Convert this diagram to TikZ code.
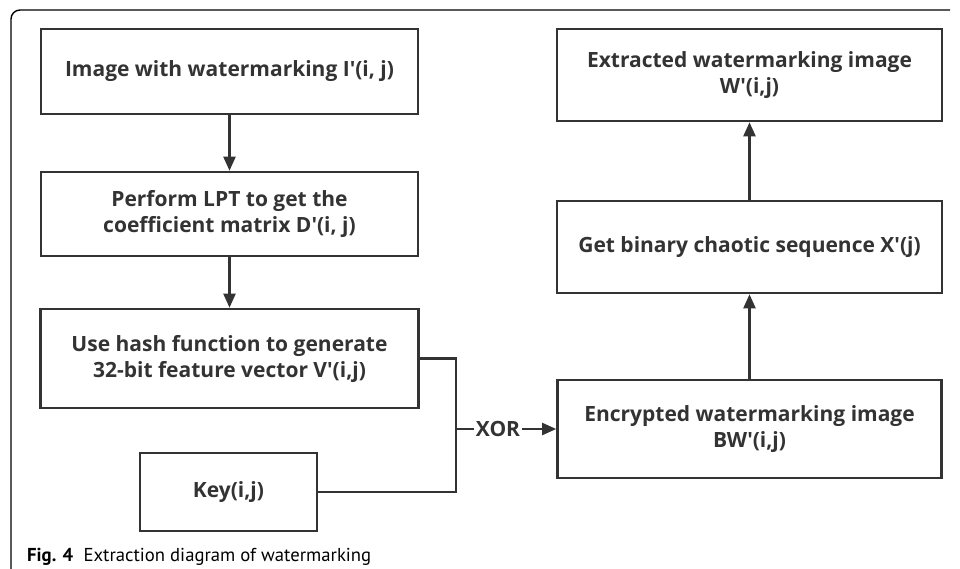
\documentclass[tikz,border=0pt]{standalone}
\usepackage{fontspec}
\newfontfamily\boxfont{Open Sans}
\newfontfamily\capfont{PT Sans}
\usetikzlibrary{arrows.meta}
\definecolor{ink}{HTML}{333333}
\tikzset{
  box/.style={draw=ink, line width=2.6pt, text=ink, font=\boxfont\fontsize{21}{26}\selectfont\bfseries,
    align=center, inner sep=0pt, anchor=center},
  link/.style={draw=ink, line width=2.2pt},
  arr/.style={link, -{Triangle[length=14pt,width=12pt]}},
}
\begin{document}
\begin{tikzpicture}[x=1pt,y=-1pt]
\useasboundingbox (0,0) rectangle (960,569);
\draw[line width=1.4pt, rounded corners=9pt] (950,10) -- (11,10) -- (11,569);

\node[box, minimum width=377pt, minimum height=85pt] (img) at (229.5,71.5) {Image with watermarking I'(i, j)};
\node[box, minimum width=377pt, minimum height=84pt] (lpt) at (229.5,214) {Perform LPT to get the\\coefficient matrix D'(i, j)};
\node[box, minimum width=378pt, minimum height=99pt] (hash) at (229.5,358.5) {Use hash function to generate\\32-bit feature vector V'(i,j)};
\node[box, minimum width=177pt, minimum height=78pt] (key) at (228.5,492) {Key(i,j)};

\node[box, minimum width=385pt, minimum height=92pt] (ext) at (749.5,75) {Extracted watermarking image\\W'(i,j)};
\node[box, minimum width=385pt, minimum height=92pt] (chaos) at (749.5,247) {Get binary chaotic sequence X'(j)};
\node[box, minimum width=384pt, minimum height=98pt] (enc) at (749.5,429) {Encrypted watermarking image\\BW'(i,j)};

\coordinate (j1) at (456,358.5);
\coordinate (j2) at (456,492);
\coordinate (jm) at (456,429);
\node[text=ink, font=\boxfont\fontsize{21}{26}\selectfont\bfseries, inner sep=1.5pt, anchor=center] (xor) at (498,429) {XOR};

\draw[arr] (img) -- (lpt);
\draw[arr] (lpt) -- (hash);
\draw[link] (hash.east) -- (j1) -- (j2) -- (key.east);
\draw[link] (jm) -- (xor.west);
\draw[arr] (xor.east) -- (enc.west);
\draw[arr] (enc) -- (chaos);
\draw[arr] (chaos) -- (ext);

\node[anchor=base west, inner sep=0pt, font=\capfont\fontsize{18.7}{22}\selectfont] (cap) at (27,561) {\textbf{Fig. 4}\hspace{0.55em}Extraction diagram of watermarking};
\end{tikzpicture}
\end{document}
